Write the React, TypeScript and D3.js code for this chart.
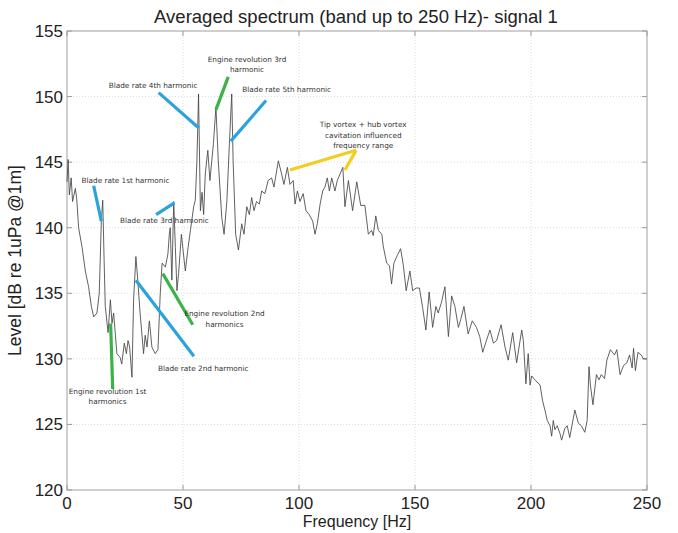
import * as d3 from 'd3';

const FREQ_HZ = [
  0, 0.5, 1, 1.8, 2.4, 3.6, 4.2, 5, 6.5, 7.9, 9.3, 10.5, 11.5, 12.9, 13.9, 14.8, 15.4, 16, 16.5, 17.7,
  18.7, 19.4, 20.1, 21.5, 22.9, 23.6, 24.7, 25.6, 26.3, 27, 28, 28.7, 29.7, 30.5, 31.5, 33, 33.7, 34.5, 35.5, 36.6,
  38, 39.2, 40.2, 41, 42.4, 43.5, 44.1, 44.5, 45.2, 46, 46.7, 47.4, 48.1, 49.3, 49.9, 51, 52.2, 53.2, 54.6, 55.3,
  56, 56.7, 57.5, 58.2, 58.9, 59.6, 60.7, 61.6, 63.1, 64.2, 65.2, 66.7, 67.7, 68.9, 70, 71, 71.6, 72.7, 73.9, 75.3,
  76.3, 77.5, 78.6, 79.6, 80.6, 81.7, 82.9, 83.9, 85.3, 86.7, 88.2, 89.2, 91.1, 92.5, 93.5, 95, 96.1, 97.5, 98.3, 99.3,
  100.4, 101.8, 103, 104.4, 105.9, 106.9, 107.9, 109.1, 110.2, 111.2, 112.2, 113.1, 114.1, 115.5, 116.5, 117.7, 118.9, 119.8, 121.3, 123.1,
  124.9, 126.6, 128.4, 129.9, 131.3, 132, 133.1, 134.2, 135.7, 136.3, 137.8, 139, 139.9, 140.9, 142.4, 143.8, 145, 146.2, 147.8, 149,
  150.5, 151.9, 153.3, 154.7, 156.1, 157.6, 159, 160, 161.4, 162.9, 164.4, 165.8, 167.2, 168.7, 169.7, 171.1, 172.9, 174.7, 176.5, 177.9,
  179.2, 180.6, 182.3, 183.8, 185.2, 187.1, 188.8, 190.2, 192.1, 193.8, 196, 196.7, 197.8, 198.8, 199.6, 200.3, 201.7, 203.9, 205, 206,
  207, 208.2, 208.9, 209.6, 210.3, 211.3, 212.5, 213.2, 214.6, 215.6, 216.7, 218.9, 220.4, 221.7, 223.2, 224.2, 225, 225.6, 226.7, 228.2,
  229.3, 230.3, 231.7, 232.7, 234.2, 236, 237, 238.4, 239.9, 241.3, 242.5, 243.6, 244.2, 245, 246.1, 247.5, 248.5, 250,
];

const LEVEL_DB = [
  143.5, 145.2, 142.5, 143.8, 142, 143, 142.2, 140, 138.5, 136.7, 135.5, 134, 133.2, 133.5, 135, 140.5, 142.1, 137.5, 134, 132,
  134.5, 132.7, 133.5, 130.4, 130.1, 129.6, 131.2, 130.4, 131.4, 130.9, 128.6, 134.5, 137.8, 136, 133.5, 130.4, 131.8, 130.9, 132.9, 130.9,
  130.4, 130.7, 135, 137.3, 137, 138, 139.5, 140, 136, 142, 138.5, 135.2, 136.5, 139.5, 138.5, 136.7, 138.5, 139.8, 141.6, 142.1,
  145.1, 150.2, 141.3, 142.7, 141, 144.1, 145.9, 143.6, 146.4, 149.2, 145.1, 140.8, 139.5, 142, 146.4, 150.2, 145.1, 139.5, 138.3, 140.3,
  139.5, 141.6, 141, 142.3, 141.3, 142, 141.8, 142.8, 142.6, 143.6, 143.8, 143.1, 145.1, 144.1, 143.3, 144.6, 143.3, 143.6, 141.8, 142.8,
  142, 142.6, 141.3, 141, 140.5, 139.5, 140.3, 141.8, 142.8, 143.1, 143.8, 142.8, 143.8, 142.8, 143.6, 144.1, 144.6, 141.6, 143.6, 141.3,
  143.5, 141.7, 141.7, 139.5, 139.8, 139.4, 140.9, 139.8, 139.5, 138.6, 137.3, 137.1, 135.7, 137.3, 137.9, 138.4, 137.1, 135.2, 136.7, 135.2,
  135.4, 135.4, 133.9, 132.2, 135.1, 132.4, 134, 133.5, 134.3, 135.5, 131.7, 134.8, 134, 132.4, 133, 134, 131.9, 132.9, 132.4, 131.7,
  130.5, 131.3, 132.2, 131.2, 131.4, 132.6, 130.9, 129.9, 132, 129.7, 132.2, 131.4, 128.1, 130.4, 128, 128.7, 128.4, 128, 126.8, 126.1,
  125.3, 124.9, 124.1, 125.3, 124.6, 124.9, 124.3, 123.8, 124.7, 124.9, 124, 126.1, 125.1, 124.9, 124.4, 125.3, 129.4, 128, 126.5, 128.8,
  128.4, 128.8, 128.5, 129.9, 130.7, 130.3, 130.7, 128.8, 129.5, 129.7, 130.3, 129.3, 130.8, 129.1, 130.5, 130.3, 130, 130,
];

const X_TICKS = [0, 50, 100, 150, 200, 250];
const Y_TICKS = [120, 125, 130, 135, 140, 145, 150, 155];

// annotation leader lines, in Hz / dB
const LEADER_KIND = ['blade', 'blade', 'engine', 'blade', 'tip', 'tip', 'blade', 'engine', 'blade', 'engine'];
const LEADER_F1 = [11.5, 39.5, 69.5, 85.8, 124.6, 124.6, 38.4, 41.3, 29.7, 18.8];
const LEADER_L1 = [143.2, 150.3, 151.5, 149.7, 145.9, 145.9, 141.0, 136.5, 136.0, 132.7];
const LEADER_F2 = [14.8, 56.8, 64.2, 70.6, 96.1, 119.8, 46.3, 54.2, 54.7, 19.7];
const LEADER_L2 = [140.5, 147.6, 149.0, 146.6, 144.4, 144.4, 141.9, 132.6, 130.2, 127.7];

// annotation labels, centre of first line in Hz / dB
const NOTE_TEXT = [
  ['Blade rate 1st harmonic'],
  ['Blade rate 4th harmonic'],
  ['Engine revolution 3rd', 'harmonic'],
  ['Blade rate 5th harmonic'],
  ['Tip vortex + hub vortex', 'cavitation influenced', 'frequency range'],
  ['Blade rate 3rd harmonic'],
  ['Engine revolution 2nd', 'harmonics'],
  ['Blade rate 2nd harmonic'],
  ['Engine revolution 1st', 'harmonics'],
];
const NOTE_F = [25.2, 37.1, 77.6, 94.7, 127.7, 42.0, 67.9, 58.7, 17.5];
const NOTE_L = [143.6, 150.8, 152.8, 150.5, 147.8, 140.5, 133.4, 129.2, 127.5];

const KIND_COLOR: Record<string, string> = { blade: '#2aa3dd', engine: '#3bb34a', tip: '#f3cd1f' };

export default function App() {
  const width = 678;
  const height = 533;
  const margin = { top: 31, right: 31, bottom: 43, left: 67 };
  const W = width - margin.left - margin.right;
  const H = height - margin.top - margin.bottom;

  const x = d3.scaleLinear().domain([0, 250]).range([0, W]);
  const y = d3.scaleLinear().domain([120, 155]).range([H, 0]);

  const pts = FREQ_HZ.map((f, i) => [f, LEVEL_DB[i]] as [number, number]);
  const path = d3.line<[number, number]>().x(d => x(d[0])).y(d => y(d[1]))(pts) || '';

  const font = '"Liberation Sans", Arial, sans-serif';
  const noteFont = '"DejaVu Sans", "Noto Sans", sans-serif';

  return (
    <div style={{ position: 'absolute', left: 0, top: 0, background: '#fff' }}>
      <svg width={width} height={height} style={{ display: 'block' }}>
        <rect width={width} height={height} fill="#fff" />
        <text x={356} y={23} textAnchor="middle" fontFamily={font} fontSize={18.5} fill="#222">
          Averaged spectrum (band up to 250 Hz)- signal 1
        </text>
        <g transform={`translate(${margin.left},${margin.top})`}>
          {/* grid */}
          {X_TICKS.slice(1, -1).map(t => (
            <line key={'gx' + t} x1={x(t)} x2={x(t)} y1={0} y2={H} stroke="#d4d4d4" strokeWidth={0.8} strokeDasharray="1,2" />
          ))}
          {Y_TICKS.slice(1, -1).map(t => (
            <line key={'gy' + t} x1={0} x2={W} y1={y(t)} y2={y(t)} stroke="#d4d4d4" strokeWidth={0.8} strokeDasharray="1,2" />
          ))}
          {/* ticks inside */}
          {X_TICKS.map(t => (
            <g key={'tx' + t}>
              <line x1={x(t)} x2={x(t)} y1={H} y2={H - 5} stroke="#999" />
              <line x1={x(t)} x2={x(t)} y1={0} y2={5} stroke="#999" />
            </g>
          ))}
          {Y_TICKS.map(t => (
            <g key={'ty' + t}>
              <line x1={0} x2={5} y1={y(t)} y2={y(t)} stroke="#999" />
              <line x1={W} x2={W - 5} y1={y(t)} y2={y(t)} stroke="#999" />
            </g>
          ))}
          <rect x={0} y={0} width={W} height={H} fill="none" stroke="#a0a0a0" strokeWidth={1} />

          {/* spectrum */}
          <path d={path} fill="none" stroke="#444" strokeWidth={0.85} strokeLinejoin="round" />

          {/* leader lines */}
          {LEADER_KIND.map((k, i) => (
            <line key={'ld' + i}
              x1={x(LEADER_F1[i])} y1={y(LEADER_L1[i])}
              x2={x(LEADER_F2[i])} y2={y(LEADER_L2[i])}
              stroke={KIND_COLOR[k]} strokeWidth={3.2} strokeLinecap="butt" />
          ))}

          {/* notes */}
          {NOTE_TEXT.map((lines, i) => (
            <text key={'nt' + i} x={x(NOTE_F[i])} y={y(NOTE_L[i])} textAnchor="middle"
              dominantBaseline="middle" fontFamily={noteFont} fontSize={7.3} fill="#333">
              {lines.map((s, j) => (
                <tspan key={j} x={x(NOTE_F[i])} dy={j === 0 ? 0 : 10.5}>{s}</tspan>
              ))}
            </text>
          ))}

          {/* tick labels */}
          {X_TICKS.map(t => (
            <text key={'lx' + t} x={x(t)} y={H + 19} textAnchor="middle" fontFamily={font} fontSize={17} fill="#222">{t}</text>
          ))}
          {Y_TICKS.map(t => (
            <text key={'ly' + t} x={-4} y={y(t) + 6} textAnchor="end" fontFamily={font} fontSize={17} fill="#222">{t}</text>
          ))}

          <text x={W / 2} y={H + 37} textAnchor="middle" fontFamily={font} fontSize={16} fill="#222">Frequency [Hz]</text>
          <text transform={`translate(${-46},${H / 2}) rotate(-90)`} textAnchor="middle" fontFamily={font} fontSize={17.5} fill="#222">
            Level [dB re 1uPa @1m]
          </text>
        </g>
      </svg>
    </div>
  );
}
